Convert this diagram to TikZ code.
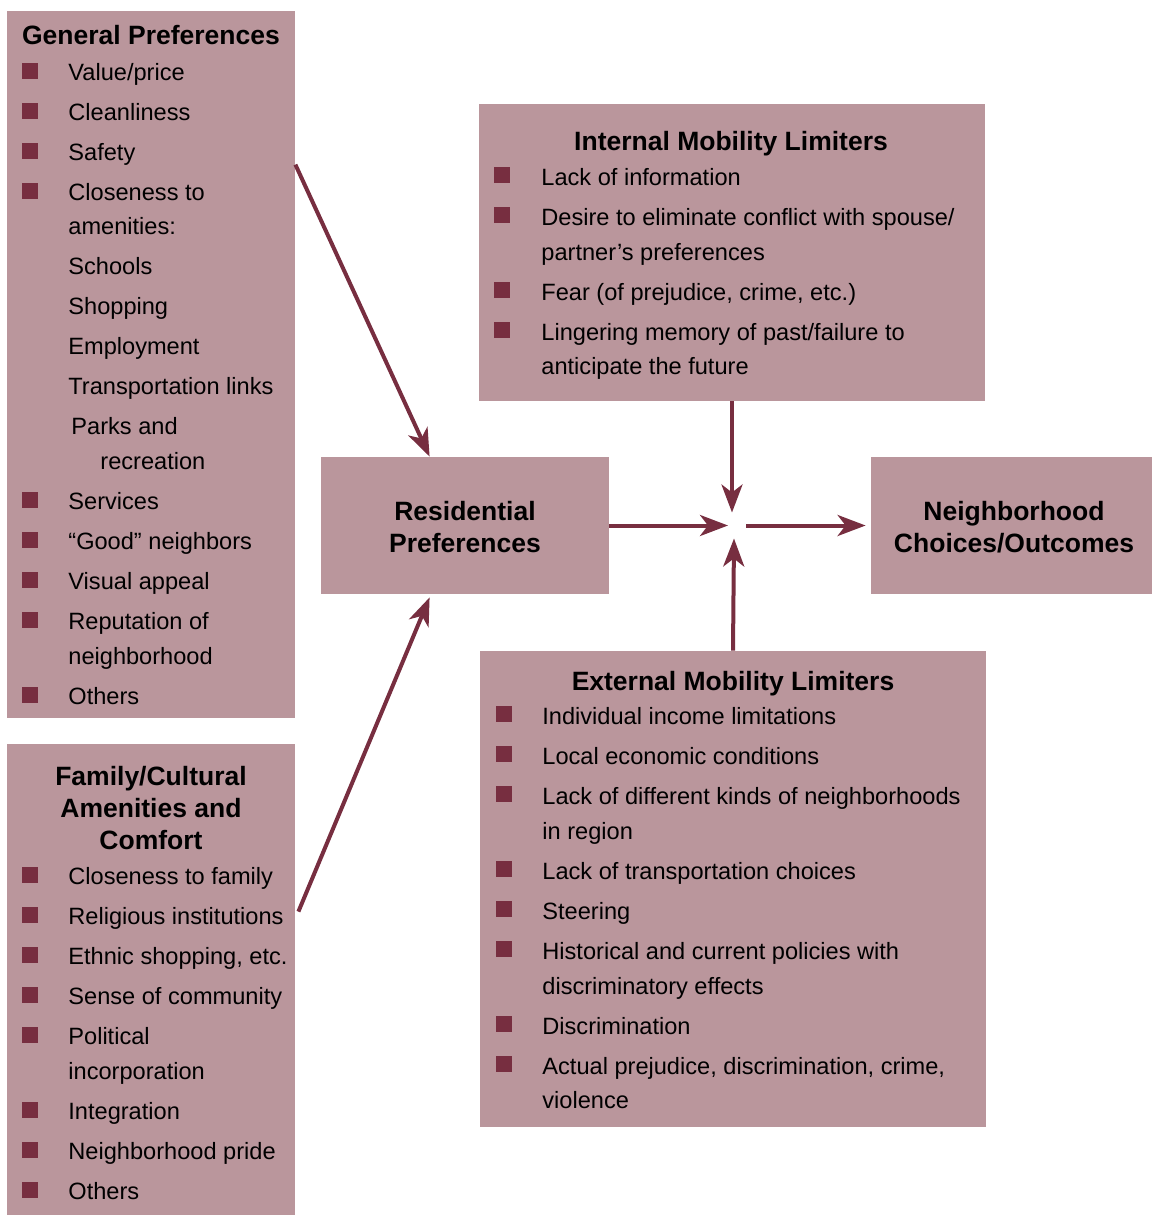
\documentclass[tikz,border=0pt]{standalone}
\usepackage{fontspec}
\setmainfont{Liberation Sans}
\usetikzlibrary{arrows.meta,calc,fit}

\definecolor{boxfill}{RGB}{186,150,156}
\definecolor{wine}{RGB}{119,46,64}

\tikzset{
  box/.style={fill=boxfill,draw=none,inner sep=0pt},
  item/.style={anchor=base west,inner sep=0pt,font=\fontsize{11.8}{14}\selectfont},
  head/.style={anchor=base,inner sep=0pt,font=\fontsize{13.25}{16}\selectfont\bfseries},
  flow/.style={draw=wine,line width=2pt,-{Stealth[length=14pt,width=10.5pt,inset=4pt]}}
}

\begin{document}
\begin{tikzpicture}[x=0.5pt,y=-0.5pt]
  \useasboundingbox (0,0) rectangle (1152,1215);

  % boxes
  \node[box,fit={(7,11) (295,718)}] (gen) {};
  \node[box,fit={(7,744) (295,1215)}] (fam) {};
  \node[box,fit={(479,104) (985,401)}] (int) {};
  \node[box,fit={(321,457) (609,594)}] (res) {};
  \node[box,fit={(871,457) (1152,594)}] (nbh) {};
  \node[box,fit={(480,651) (986,1127)}] (ext) {};
  \coordinate (hub) at (733,525.5);

  % general preferences
  \node[head] (gen-title) at (151,44) {General Preferences};
  \foreach \x/\y/\t in {68/80/{Value/price},68/120/Cleanliness,68/160/Safety,
      68/200/Closeness to,68/234/amenities:,68/274/Schools,68/314/Shopping,
      68/354/Employment,68/394/Transportation links,71/434/Parks and,
      100/469/recreation,68/509/Services,68/549/“Good” neighbors,
      68/589/Visual appeal,68/629/Reputation of,68/664/neighborhood,68/704/Others} {
    \node[item] (gen-\y) at (\x,\y) {\t};
  }
  \foreach \y in {80,120,160,200,509,549,589,629,704} {
    \fill[wine] (22,\y-1) rectangle ++(16,-16);
  }

  % family / cultural
  \node[head] (fam-t1) at (151,785) {Family/Cultural};
  \node[head] (fam-t2) at (151,817) {Amenities and};
  \node[head] (fam-t3) at (151,849) {Comfort};
  \foreach \y/\t in {884/Closeness to family,924/Religious institutions,
      964/{Ethnic shopping, etc.},1004/Sense of community,1044/Political,
      1079/incorporation,1119/Integration,1159/Neighborhood pride,1199/Others} {
    \node[item] (fam-\y) at (68,\y) {\t};
  }
  \foreach \y in {884,924,964,1004,1044,1119,1159,1199} {
    \fill[wine] (22,\y-1) rectangle ++(16,-16);
  }

  % internal limiters
  \node[head] (int-title) at (731,150) {Internal Mobility Limiters};
  \foreach \y/\t in {185/Lack of information,225/{Desire to eliminate conflict with spouse/},
      260/partner’s preferences,300/{Fear (of prejudice, crime, etc.)},
      340/{Lingering memory of past/failure to},374/anticipate the future} {
    \node[item] (int-\y) at (541,\y) {\t};
  }
  \foreach \y in {185,225,300,340} {
    \fill[wine] (494,\y-2) rectangle ++(16,-16);
  }

  % external limiters
  \node[head] (ext-title) at (733,690) {External Mobility Limiters};
  \foreach \y/\t in {724/Individual income limitations,764/Local economic conditions,
      804/Lack of different kinds of neighborhoods,839/in region,
      879/Lack of transportation choices,919/Steering,
      959/Historical and current policies with,994/discriminatory effects,
      1034/Discrimination,1074/{Actual prejudice, discrimination, crime,},1108/violence} {
    \node[item] (ext-\y) at (542,\y) {\t};
  }
  \foreach \y in {724,764,804,879,919,959,1034,1074} {
    \fill[wine] (496,\y-2) rectangle ++(16,-16);
  }

  % middle
  \node[head] (res-t1) at (465,520.5) {Residential};
  \node[head] (res-t2) at (465,552.5) {Preferences};
  \node[head] (nbh-t1) at (1014,520.5) {Neighborhood};
  \node[head] (nbh-t2) at (1014,552.5) {Choices/Outcomes};

  % arrows
  \draw[flow] ($(gen.north east)+(0,154)$) -- ($(res.north west)+(109,0)$);
  \draw[flow] ($(fam.north east)+(3,168)$) -- ($(res.south west)+(109,3)$);
  \draw[flow] (res.east) -- ($(hub)+(-5,0)$);
  \draw[flow] ($(hub)+(13,0)$) -- ($(nbh.west)+(-5,0)$);
  \draw[flow] (int.south) -- ($(hub)+(-1,-13)$);
  \draw[flow] (ext.north) -- ($(hub)+(1,13)$);
\end{tikzpicture}
\end{document}
